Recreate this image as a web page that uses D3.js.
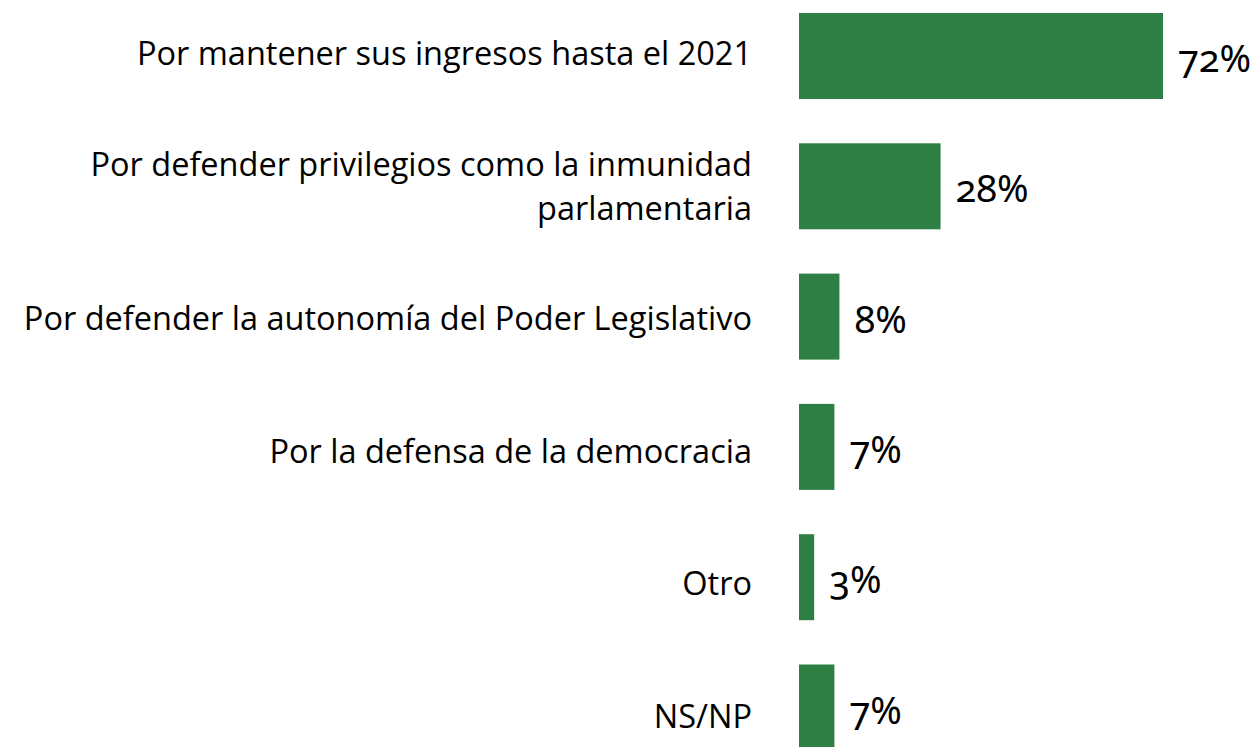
<!DOCTYPE html>
<html>
<head>
<meta charset="utf-8">
<script src="https://cdn.jsdelivr.net/npm/d3@7"></script>
<style>
  html, body { margin: 0; padding: 0; background: #fff; overflow: hidden; }
  svg { display: block; }
  .label { font-family: "Open Sans", sans-serif; font-size: 32.5px; fill: #000; }
  .value { font-family: "Noto Sans", sans-serif; font-size: 38px; fill: #000; font-variant-numeric: oldstyle-nums; }
</style>
</head>
<body>
<script>
// categories (each entry = lines of the label)
const categories = [
  ["Por mantener sus ingresos hasta el 2021"],
  ["Por defender privilegios como la inmunidad", "parlamentaria"],
  ["Por defender la autonomía del Poder Legislativo"],
  ["Por la defensa de la democracia"],
  ["Otro"],
  ["NS/NP"]
];
const values = [72, 28, 8, 7, 3, 7];
const valueLabels = ["72%", "28%", "8%", "7%", "3%", "7%"];

const width = 1258, height = 747;
const barLeft = 799;

const svg = d3.select("body").append("svg")
  .attr("width", width)
  .attr("height", height);

const y = d3.scaleBand()
  .domain(d3.range(categories.length))
  .range([13, 750.5])
  .paddingInner(0.34)
  .paddingOuter(0);

// category text sits on a slightly looser grid than the bars
const yLabel = d3.scalePoint()
  .domain(d3.range(categories.length))
  .range([65, 728]);

const x = d3.scaleLinear()
  .domain([0, 72])
  .range([barLeft, 1163]);

// bars
svg.selectAll(".bar")
  .data(values)
  .join("rect")
  .attr("class", "bar")
  .attr("x", x(0))
  .attr("y", (d, i) => y(i))
  .attr("width", d => x(d) - x(0))
  .attr("height", y.bandwidth())
  .attr("fill", "#2d7f43");

// category labels
const lineH = 44;
const labels = svg.selectAll(".label")
  .data(categories)
  .join("text")
  .attr("class", "label")
  .attr("text-anchor", "end")
  .attr("x", barLeft - 47)
  .attr("y", (d, i) => yLabel(i));

labels.selectAll("tspan")
  .data(d => d.map((t, j) => ({ t, j, n: d.length })))
  .join("tspan")
  .attr("x", barLeft - 47)
  .attr("dy", d => d.j === 0 ? -(d.n - 1) * lineH / 2 : lineH)
  .text(d => d.t);

// value labels
svg.selectAll(".value")
  .data(values)
  .join("text")
  .attr("class", "value")
  .attr("x", d => x(d) + 15)
  .attr("y", (d, i) => y(i) + y.bandwidth() / 2 + 16)
  .text((d, i) => valueLabels[i]);
</script>
</body>
</html>
